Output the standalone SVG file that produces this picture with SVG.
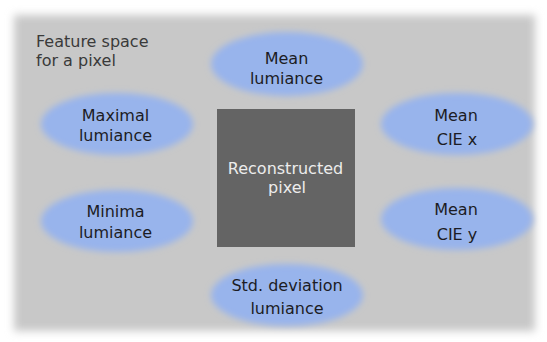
<svg xmlns="http://www.w3.org/2000/svg" width="547" height="342" viewBox="0 0 547 342">
  <defs>
    <filter id="panelBlur" x="-5%" y="-5%" width="110%" height="110%">
      <feGaussianBlur stdDeviation="4"/>
    </filter>
    <filter id="softBlur" x="-20%" y="-30%" width="140%" height="160%">
      <feGaussianBlur stdDeviation="3"/>
    </filter>
  </defs>
  <style>
    text { font-family: "DejaVu Sans", Verdana, sans-serif; font-size: 16px; }
    .blob { fill: #98b4ec; filter: url(#softBlur); }
    .lbl { fill: #1c1c24; text-anchor: middle; }
    .title { fill: #3a3a3a; }
    .center-lbl { fill: #ececec; text-anchor: middle; }
  </style>
  <rect x="0" y="0" width="547" height="342" fill="#ffffff"/>
  <rect x="14" y="15" width="521" height="316" fill="#c8c8c8" filter="url(#panelBlur)"/>

  <g id="title">
    <text class="title" x="36" y="47">Feature space</text>
    <text class="title" x="36" y="66">for a pixel</text>
  </g>

  <g id="connectors"></g>

  <g id="mean-lumiance">
    <ellipse class="blob" cx="287" cy="64" rx="76" ry="32"/>
    <text class="lbl" x="286.5" y="64">Mean</text>
    <text class="lbl" x="286.5" y="83.5">lumiance</text>
  </g>

  <g id="maximal-lumiance">
    <ellipse class="blob" cx="117" cy="124" rx="76" ry="31"/>
    <text class="lbl" x="115.5" y="121">Maximal</text>
    <text class="lbl" x="115.5" y="140.5">lumiance</text>
  </g>

  <g id="minima-lumiance">
    <ellipse class="blob" cx="117" cy="221" rx="76" ry="31"/>
    <text class="lbl" x="115.5" y="217">Minima</text>
    <text class="lbl" x="115.5" y="237.5">lumiance</text>
  </g>

  <g id="mean-cie-x">
    <ellipse class="blob" cx="457" cy="124" rx="76" ry="31"/>
    <text class="lbl" x="456" y="121">Mean</text>
    <text class="lbl" x="457" y="145">CIE x</text>
  </g>

  <g id="mean-cie-y">
    <ellipse class="blob" cx="457" cy="219" rx="76" ry="31"/>
    <text class="lbl" x="456" y="215">Mean</text>
    <text class="lbl" x="457" y="239.5">CIE y</text>
  </g>

  <g id="std-deviation-lumiance">
    <ellipse class="blob" cx="287" cy="295" rx="76" ry="31"/>
    <text class="lbl" x="287" y="291">Std. deviation</text>
    <text class="lbl" x="287" y="313.5">lumiance</text>
  </g>

  <g id="reconstructed-pixel">
    <rect x="217" y="109" width="138" height="138" fill="#646464"/>
    <text class="center-lbl" x="285.5" y="173.5">Reconstructed</text>
    <text class="center-lbl" x="287" y="193">pixel</text>
  </g>
</svg>
